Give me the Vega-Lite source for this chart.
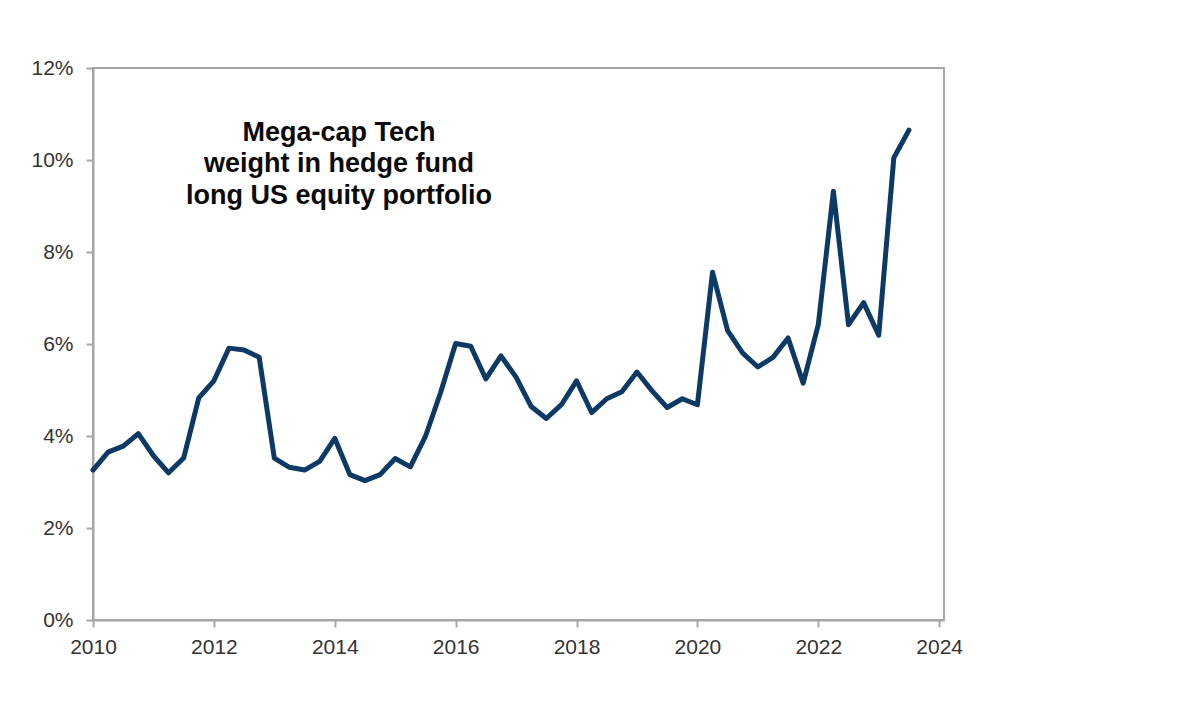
{
  "$schema": "https://vega.github.io/schema/vega-lite/v6.json",
  "width": 851,
  "height": 552,
  "autosize": "none",
  "padding": {"left": 93, "top": 68, "right": 256, "bottom": 90},
  "background": "white",
  "config": {
    "view": {"stroke": "#a6a6a6", "strokeWidth": 2},
    "axis": {
      "grid": false,
      "domainColor": "#a6a6a6",
      "domainWidth": 2,
      "tickColor": "#a6a6a6",
      "tickWidth": 2,
      "tickSize": 7,
      "labelFont": "Liberation Sans",
      "labelFontSize": 21,
      "labelColor": "#333333",
      "title": null
    }
  },
  "datasets": {
    "weight": [
      {"date": 2010.00, "pct": 3.26},
      {"date": 2010.25, "pct": 3.65},
      {"date": 2010.50, "pct": 3.78},
      {"date": 2010.75, "pct": 4.05},
      {"date": 2011.00, "pct": 3.57},
      {"date": 2011.25, "pct": 3.20},
      {"date": 2011.50, "pct": 3.52},
      {"date": 2011.75, "pct": 4.83},
      {"date": 2012.00, "pct": 5.20},
      {"date": 2012.25, "pct": 5.91},
      {"date": 2012.50, "pct": 5.87},
      {"date": 2012.75, "pct": 5.71},
      {"date": 2013.00, "pct": 3.52},
      {"date": 2013.25, "pct": 3.32},
      {"date": 2013.50, "pct": 3.26},
      {"date": 2013.75, "pct": 3.45},
      {"date": 2014.00, "pct": 3.95},
      {"date": 2014.25, "pct": 3.16},
      {"date": 2014.50, "pct": 3.03},
      {"date": 2014.75, "pct": 3.16},
      {"date": 2015.00, "pct": 3.51},
      {"date": 2015.25, "pct": 3.33},
      {"date": 2015.50, "pct": 3.99},
      {"date": 2015.75, "pct": 4.94},
      {"date": 2016.00, "pct": 6.01},
      {"date": 2016.25, "pct": 5.95},
      {"date": 2016.50, "pct": 5.24},
      {"date": 2016.75, "pct": 5.74},
      {"date": 2017.00, "pct": 5.28},
      {"date": 2017.25, "pct": 4.64},
      {"date": 2017.50, "pct": 4.38},
      {"date": 2017.75, "pct": 4.68},
      {"date": 2018.00, "pct": 5.20},
      {"date": 2018.25, "pct": 4.51},
      {"date": 2018.50, "pct": 4.81},
      {"date": 2018.75, "pct": 4.96},
      {"date": 2019.00, "pct": 5.39},
      {"date": 2019.25, "pct": 4.98},
      {"date": 2019.50, "pct": 4.62},
      {"date": 2019.75, "pct": 4.81},
      {"date": 2020.00, "pct": 4.68},
      {"date": 2020.25, "pct": 7.56},
      {"date": 2020.50, "pct": 6.29},
      {"date": 2020.75, "pct": 5.80},
      {"date": 2021.00, "pct": 5.50},
      {"date": 2021.25, "pct": 5.71},
      {"date": 2021.50, "pct": 6.13},
      {"date": 2021.75, "pct": 5.15},
      {"date": 2022.00, "pct": 6.42},
      {"date": 2022.25, "pct": 9.32},
      {"date": 2022.50, "pct": 6.42},
      {"date": 2022.75, "pct": 6.90},
      {"date": 2023.00, "pct": 6.19},
      {"date": 2023.25, "pct": 10.05},
      {"date": 2023.50, "pct": 10.65}
    ],
    "note": [
      {"date": 2014.07, "pct": 10.59, "label": "Mega-cap Tech\nweight in hedge fund\nlong US equity portfolio"}
    ]
  },
  "layer": [
    {
      "data": {"name": "weight"},
      "mark": {"type": "line", "color": "#0d3a65", "strokeWidth": 5, "strokeCap": "round", "strokeJoin": "round"},
      "encoding": {
        "x": {
          "field": "date",
          "type": "quantitative",
          "scale": {"domain": [2010, 2024.08], "nice": false, "zero": false},
          "axis": {"values": [2010, 2012, 2014, 2016, 2018, 2020, 2022, 2024], "format": "d", "labelPadding": 9, "labelFlush": false}
        },
        "y": {
          "field": "pct",
          "type": "quantitative",
          "scale": {"domain": [0, 12], "nice": false},
          "axis": {"values": [0, 2, 4, 6, 8, 10, 12], "labelExpr": "datum.value + '%'", "labelPadding": 13, "labelFlush": false}
        }
      }
    },
    {
      "data": {"name": "note"},
      "mark": {
        "type": "text",
        "font": "Liberation Sans",
        "fontWeight": "bold",
        "fontSize": 27,
        "lineBreak": "\n",
        "lineHeight": 31.6,
        "align": "center",
        "baseline": "middle",
        "color": "#0a0a0a"
      },
      "encoding": {
        "x": {"field": "date", "type": "quantitative"},
        "y": {"field": "pct", "type": "quantitative"},
        "text": {"field": "label"}
      }
    }
  ]
}
